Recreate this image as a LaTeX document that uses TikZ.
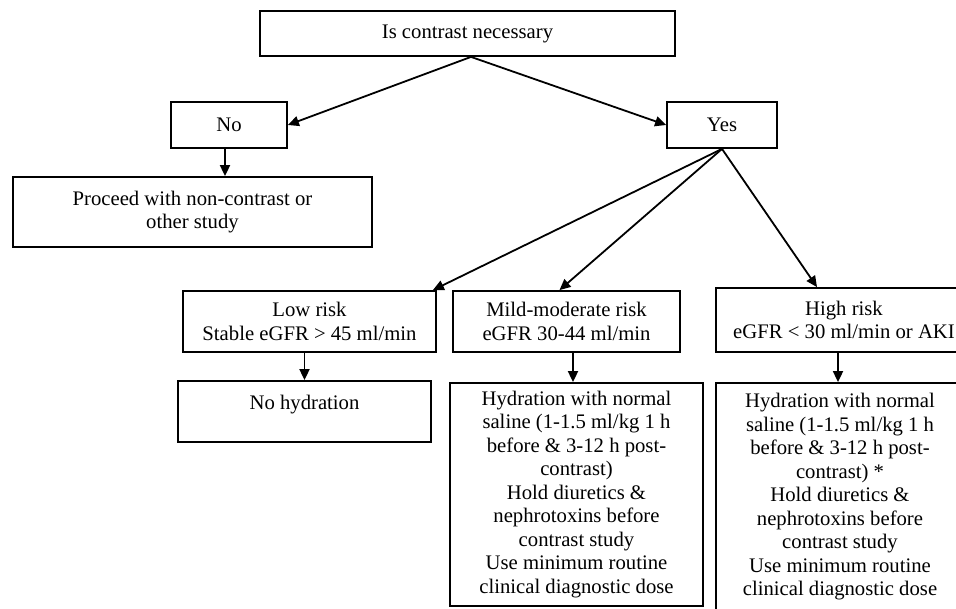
\documentclass[tikz,border=0pt]{standalone}
\usepackage{fontspec}
\setmainfont{Liberation Serif}
\usepackage{tikz}
\usetikzlibrary{arrows.meta}
\tikzset{
  flowbox/.style={draw, line width=1.8pt, inner sep=0pt, align=center,
    font=\fontsize{20.7}{23.5}\selectfont},
  flowarrow/.style={line width=1.8pt, -{Triangle[length=11pt, width=10pt]}}
}

\begin{document}
\begin{tikzpicture}[x=1pt, y=-1pt]
      \useasboundingbox (0, 0) rectangle (956, 608);
      \node[flowbox, minimum width=415pt, minimum height=45pt] (q) at (467.5, 33.5) {Is contrast necessary};
      \node[flowbox, minimum width=116pt, minimum height=46pt] (no) at (229, 125) {No};
      \node[flowbox, minimum width=110pt, minimum height=46pt] (yes) at (722, 125) {Yes};
      \node[flowbox, minimum width=359pt, minimum height=70pt] (proceed) at (192.5, 212) {Proceed with non-contrast or\\other study};
      \node[flowbox, minimum width=253pt, minimum height=61pt] (low) at (309.5, 321.5) {Low risk\\Stable eGFR > 45 ml/min};
      \node[flowbox, minimum width=227pt, minimum height=61pt] (mild) at (566.5, 321.5) {Mild-moderate risk\\eGFR 30-44 ml/min};
      \node[flowbox, minimum width=256pt, minimum height=64pt] (high) at (844, 320) {High risk\\eGFR < 30 ml/min or AKI};
      \node[flowbox, minimum width=253pt, text height=28pt, text depth=33pt] (nohyd) at (304.5, 411.5) {No hydration};
      \node[flowbox, minimum width=253pt, minimum height=223pt] (mildact) at (576.5, 494.5) {Hydration with normal\\saline (1-1.5 ml/kg 1 h\\before \& 3-12 h post-\\contrast)\\Hold diuretics \&\\nephrotoxins before\\contrast study\\Use minimum routine\\clinical diagnostic dose};
      \node[flowbox, minimum width=248pt, minimum height=228pt] (highact) at (840, 497) {Hydration with normal\\saline (1-1.5 ml/kg 1 h\\before \& 3-12 h post-\\contrast) *\\Hold diuretics \&\\nephrotoxins before\\contrast study\\Use minimum routine\\clinical diagnostic dose};
      \draw[flowarrow] ([xshift=3.5pt]q.south) -- (no.east);
      \draw[flowarrow] ([xshift=3.5pt]q.south) -- (yes.west);
      \draw[flowarrow] ([xshift=-4pt]no.south) -- ([xshift=-4pt]no.south |- proceed.north);
      \draw[flowarrow] (yes.south) -- ([xshift=-4pt]low.north east);
      \draw[flowarrow] (yes.south) -- ([xshift=-7pt]mild.north);
      \draw[flowarrow] (yes.south) -- ([xshift=-27pt]high.north);
      \draw[flowarrow] (low.south -| nohyd.north) -- (nohyd.north);
      \draw[flowarrow] ([xshift=-3.5pt]mildact.north |- mild.south) -- ([xshift=-3.5pt]mildact.north);
      \draw[flowarrow] ([xshift=-2pt]highact.north |- high.south) -- ([xshift=-2pt]highact.north);
    \end{tikzpicture}
\end{document}
